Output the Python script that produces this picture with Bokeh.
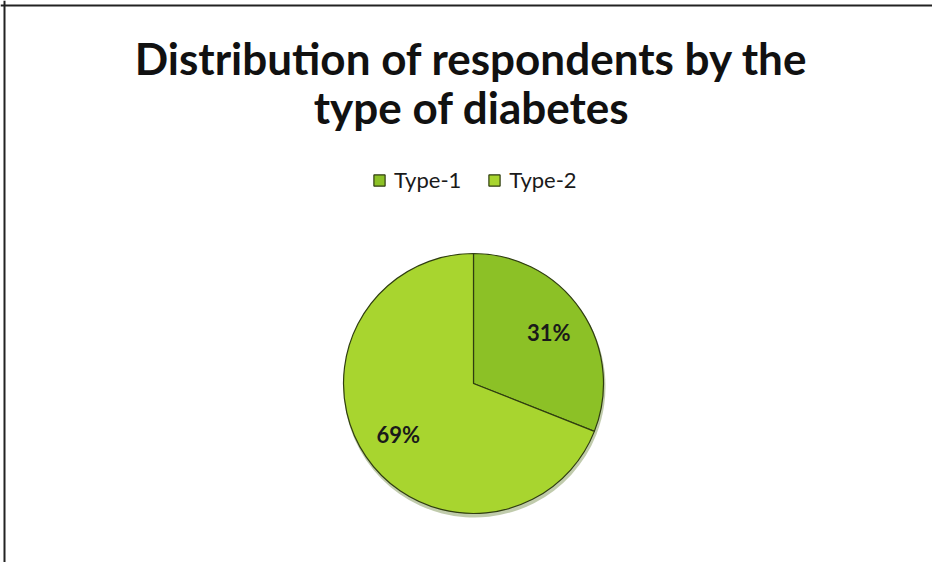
import math
from bokeh.plotting import figure
from bokeh.models import ColumnDataSource, Range1d, Label, Span, Legend, LegendItem
from bokeh.embed import file_html
from bokeh.resources import INLINE

categories = ["Type-1", "Type-2"]
shares = [31, 69]
labels = ["31%", "69%"]
colors = ["#8cc126", "#a8d52f"]

W, H = 932, 562
p = figure(width=W, height=H, output_backend="svg", toolbar_location=None,
           x_range=Range1d(0, W), y_range=Range1d(0, H), min_border=0,
           tools="")
p.axis.visible = False
p.grid.visible = False
p.outline_line_color = None
p.background_fill_color = "white"
p.border_fill_color = "white"

cx, cy, r = 473, H - 383, 130
total = sum(shares)
starts, ends, lx, ly = [], [], [], []
a = math.pi / 2
for s in shares:
    b = a - 2 * math.pi * s / total
    starts.append(b)
    ends.append(a)
    mid = (a + b) / 2
    lx.append(cx + 0.7 * r * math.cos(mid))
    ly.append(cy + 0.7 * r * math.sin(mid))
    a = b

src = ColumnDataSource(dict(cat=categories, start=starts, end=ends, color=colors,
                            lx=lx, ly=ly, lab=labels))
# soft shadow
p.wedge(x=cx + 1, y=cy - 3, radius=r + 1, start_angle="start", end_angle="end",
        fill_color="#4a6a10", fill_alpha=0.35, line_color=None, source=src)
w = p.wedge(x=cx, y=cy, radius=r, start_angle="start", end_angle="end",
            fill_color="color", line_color="#2f3d10", line_width=1.2, source=src)

p.text(x="lx", y="ly", text="lab", source=src, text_align="center",
       text_baseline="middle", text_font_size="22px", text_font_style="bold",
       text_color="#1a1a1a", text_font={"value": "Lato"})

legend = Legend(items=[LegendItem(label=c, renderers=[w], index=i)
                       for i, c in enumerate(categories)],
                orientation="horizontal", location=(372, H - 193),
                label_text_font="Lato", label_text_font_size="22px",
                label_text_color="#1a1a1a", glyph_width=14, glyph_height=14,
                spacing=26, padding=2, label_standoff=8,
                border_line_color=None, background_fill_alpha=0)
p.add_layout(legend, "center")

for txt, y in [("Distribution of respondents by the", H - 57),
               ("type of diabetes", H - 106)]:
    p.add_layout(Label(x=471, y=y, text=txt, text_align="center",
                       text_baseline="alphabetic",
                       text_font="Lato", text_font_size="44px",
                       text_font_style="bold", text_color="#111111"))

p.add_layout(Span(location=4, dimension="height", line_color="#222222", line_width=2))
p.add_layout(Span(location=H - 5, dimension="width", line_color="#222222", line_width=2))

open("out.html", "w").write(file_html(p, INLINE))
